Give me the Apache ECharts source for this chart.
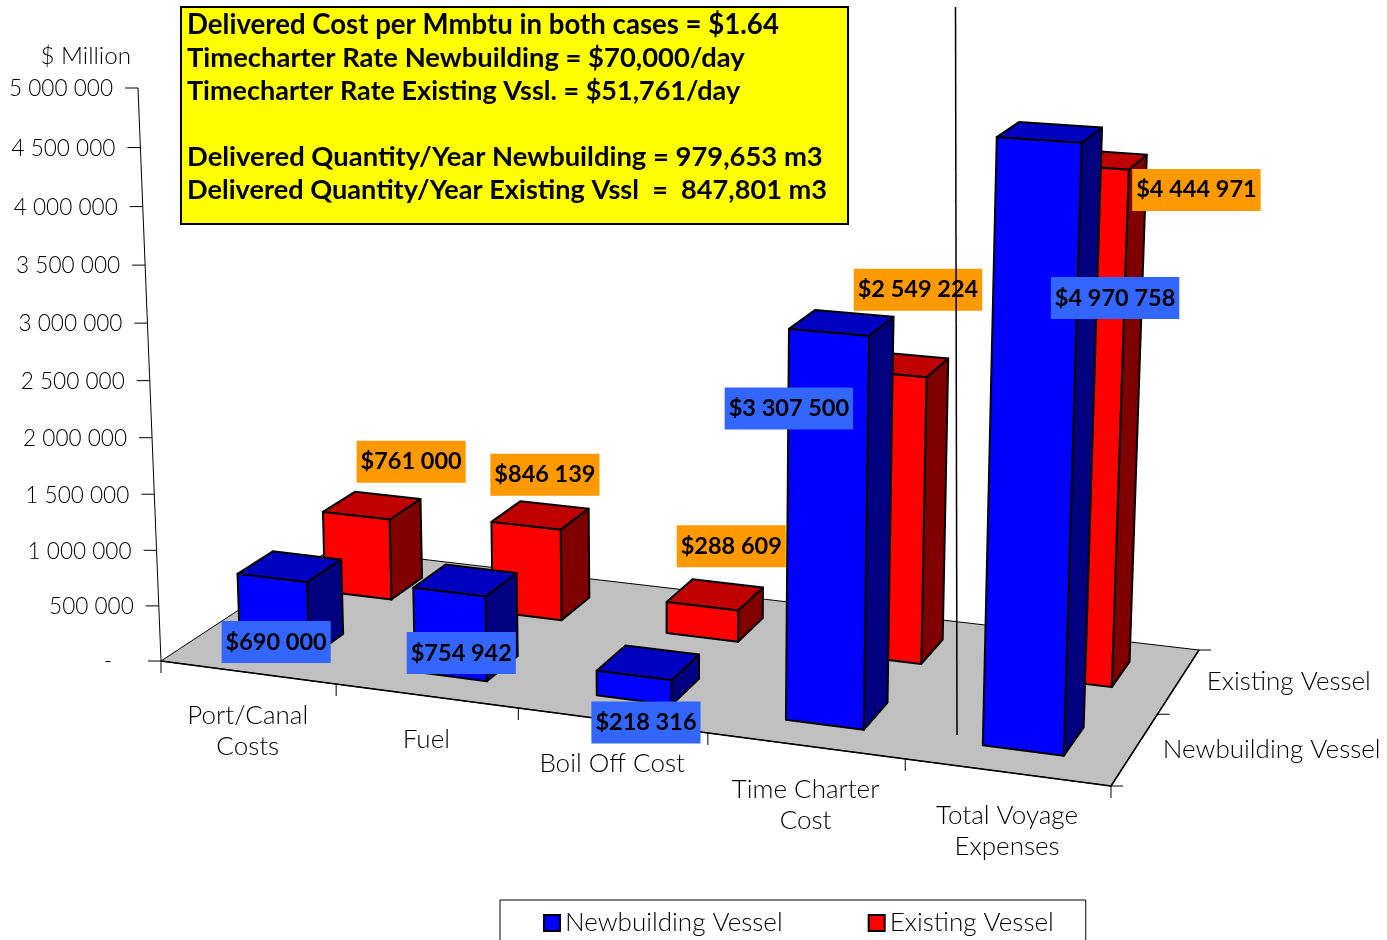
<!DOCTYPE html>
<html>
<head>
<meta charset="utf-8">
<style>html,body{margin:0;padding:0;background:#fff}#chart{width:1387px;height:940px;overflow:hidden}</style>
<script src="https://cdn.jsdelivr.net/npm/echarts@6/dist/echarts.min.js"></script>
</head>
<body>
<div id="chart"></div>
<script>
// Voyage cost comparison, drawn as a 3D column chart
const categories = ['Port/Canal\nCosts', 'Fuel', 'Boil Off Cost', 'Time Charter\nCost', 'Total Voyage\nExpenses'];
const depthNames = ['Newbuilding Vessel', 'Existing Vessel'];
const newbuildingValues = [690000, 754942, 218316, 3307500, 4970758];
const existingValues = [761000, 846139, 288609, 2549224, 4444971];
const valueTicks = [0, 500000, 1000000, 1500000, 2000000, 2500000, 3000000, 3500000, 4000000, 4500000, 5000000];
const valueTickLabels = ['-', '500 000', '1 000 000', '1 500 000', '2 000 000', '2 500 000', '3 000 000', '3 500 000', '4 000 000', '4 500 000', '5 000 000'];
const noteLines = [
  'Delivered Cost per Mmbtu in both cases = $1.64',
  'Timecharter Rate Newbuilding = $70,000/day',
  'Timecharter Rate Existing Vssl. = $51,761/day',
  '',
  'Delivered Quantity/Year Newbuilding = 979,653 m3',
  'Delivered Quantity/Year Existing Vssl  =  847,801 m3'
];
const noteSizes = [27.6, 27.4, 27.0, 27.4, 27.4, 27.15];

// Value label offsets from the top centre of each column's front face
const newbuildingNudge = [[4, 64], [12, 61], [12, 47], [-40, 76], [76, 158]];
const existingNudge = [[55, -54], [19, -51], [29, -60], [29.5, -84], [108, 23]];

const BOLD = 'bold 23.5px "Lato", sans-serif';
const AXIS_FONT = '300 26px "Lato", sans-serif';
const TICK_FONT = '300 22.6px "Lato", sans-serif';
const UNIT_FONT = '300 24.2px "Lato", sans-serif';

// Floor plane corners and the vertical vanishing point define the camera
const FLOOR = { o: [161, 661], x: [1111, 786], xy: [1199, 650], y: [332, 548.7] };
const VANISH_Y = 13718, VANISH_X = 685, TOP_Y = 88;
const BAR_U = [0.30, 0.70];      // column extent inside a category cell
const BAR_V = [0.30, 0.70];      // column extent inside a depth cell

const camera = (function () {
  const [x0, y0] = FLOOR.o, [x1, y1] = FLOOR.x, [x2, y2] = FLOOR.xy, [x3, y3] = FLOOR.y;
  const dx1 = x1 - x2, dx2 = x3 - x2, dx3 = x0 - x1 + x2 - x3;
  const dy1 = y1 - y2, dy2 = y3 - y2, dy3 = y0 - y1 + y2 - y3;
  const den = dx1 * dy2 - dx2 * dy1;
  const g = (dx3 * dy2 - dx2 * dy3) / den, h = (dx1 * dy3 - dx3 * dy1) / den;
  return {
    a: x1 - x0 + g * x1, b: x3 - x0 + h * x3, c: x0,
    d: y1 - y0 + g * y1, e: y3 - y0 + h * y3, f: y0,
    g: g, h: h,
    l: (y0 - TOP_Y) / (TOP_Y - VANISH_Y)
  };
})();

// u: category units, v: depth units, z: fraction of the value axis
function project(u, v, z) {
  const s = u / categories.length, t = v / depthNames.length, c = camera;
  const w = c.g * s + c.h * t + 1 + c.l * z;
  return [
    (c.a * s + c.b * t + c.c + c.l * VANISH_X * z) / w,
    (c.d * s + c.e * t + c.f + c.l * VANISH_Y * z) / w
  ];
}

// Reads positions through the hidden cartesian scales, then lifts them into perspective
function uFromScale(params, api, cat) {
  const sys = params.coordSys;
  return (api.coord([cat, 0])[0] - sys.x) / sys.width * categories.length;
}
function zFromScale(params, api, value) {
  const sys = params.coordSys;
  return (sys.y + sys.height - api.coord([0, value])[1]) / sys.height;
}

function face(points, fill) {
  return {
    type: 'polygon',
    shape: { points: points },
    style: { fill: fill, stroke: '#000', lineWidth: 2, lineJoin: 'round' }
  };
}

function columnRenderer(row, shades) {
  return function (params, api) {
    const cat = api.value(0), z = zFromScale(params, api, api.value(1));
    const uc = uFromScale(params, api, cat);
    const u0 = uc - 0.5 + BAR_U[0], u1 = uc - 0.5 + BAR_U[1];
    const v0 = row + BAR_V[0], v1 = row + BAR_V[1];
    const side = [project(u1, v0, 0), project(u1, v1, 0), project(u1, v1, z), project(u1, v0, z)];
    const top = [project(u0, v0, z), project(u1, v0, z), project(u1, v1, z), project(u0, v1, z)];
    const front = [project(u0, v0, 0), project(u1, v0, 0), project(u1, v0, z), project(u0, v0, z)];
    return {
      type: 'group',
      children: [face(side, shades.side), face(top, shades.top), face(front, shades.front)]
    };
  };
}

function line(a, b, width) {
  return {
    type: 'line',
    shape: { x1: a[0], y1: a[1], x2: b[0], y2: b[1] },
    style: { stroke: '#000', lineWidth: width || 1 }
  };
}
function axisText(text, x, y, align, vAlign, font) {
  return {
    type: 'text',
    style: { text: text, x: x, y: y, fill: '#000', font: font || AXIS_FONT, align: align, verticalAlign: vAlign, lineHeight: 31 }
  };
}

function frameRenderer(params, api) {
  const nCat = categories.length, nDepth = depthNames.length;
  const kids = [];
  kids.push({
    type: 'polygon',
    shape: { points: [project(0, 0, 0), project(nCat, 0, 0), project(nCat, nDepth, 0), project(0, nDepth, 0)] },
    style: { fill: '#C0C0C0', stroke: '#000', lineWidth: 1 }
  });
  kids.push(line(project(0, 0, 0), project(nCat, 0, 0), 1.5));
  kids.push(line(project(nCat, 0, 0), project(nCat, nDepth, 0), 1.5));
  // Value axis
  kids.push(line(project(0, 0, 0), project(0, 0, 1), 1));
  valueTicks.forEach(function (tick, i) {
    const p = project(0, 0, zFromScale(params, api, tick));
    kids.push(line([p[0] - 13, p[1]], p, 1));
    kids.push(axisText(valueTickLabels[i], p[0] - 25 - (tick === 0 ? 24 : 0), p[1] + 1, 'right', 'middle', TICK_FONT));
  });
  // Category axis
  for (let i = 0; i <= nCat; i++) {
    const p = project(i, 0, 0);
    kids.push(line(p, [p[0], p[1] + 12], 1));
  }
  categories.forEach(function (name, i) {
    const p = project(uFromScale(params, api, i), 0, 0);
    kids.push(axisText(name, p[0], p[1] + 28, 'center', 'top'));
  });
  // Depth axis
  for (let j = 0; j <= nDepth; j++) {
    const p = project(nCat, j, 0);
    kids.push(line(p, [p[0] + 12, p[1]], 1));
  }
  depthNames.forEach(function (name, j) {
    const p = project(nCat, j + 0.5, 0);
    kids.push(axisText(name, p[0] + 28, p[1], 'left', 'middle'));
  });
  kids.push(axisText('$ Million', 131, 56, 'right', 'middle', UNIT_FONT));
  return { type: 'group', children: kids };
}

function labelRenderer(row, background, nudges) {
  return function (params, api) {
    const cat = api.value(0), value = api.value(1);
    const uc = uFromScale(params, api, cat);
    const p = project(uc, row + BAR_V[0], zFromScale(params, api, value));
    const n = nudges[cat];
    const text = '$' + String(value).replace(/\B(?=(\d{3})+$)/g, ' ');
    return {
      type: 'text',
      style: {
        text: text, x: p[0] + n[0], y: p[1] + n[1],
        align: 'center', verticalAlign: 'middle',
        fill: '#000', font: BOLD,
        backgroundColor: background, padding: [9, 4]
      }
    };
  };
}

function pairs(values) {
  return values.map(function (v, i) { return [i, v]; });
}

const noteText = noteLines.map(function (text, i) {
  return {
    type: 'text', z: 21, x: 187, y: 25 + i * 33,
    style: { text: text, font: 'bold ' + noteSizes[i] + 'px "Lato", sans-serif', fill: '#000', align: 'left', verticalAlign: 'middle' }
  };
});

const chart = echarts.init(document.getElementById('chart'), null, { renderer: 'canvas' });
chart.setOption({
  animation: false,
  backgroundColor: '#fff',
  grid: { left: 100, right: 100, top: 100, bottom: 100 },
  xAxis: { type: 'category', data: categories, show: false },
  yAxis: { type: 'value', min: 0, max: 5000000, interval: 500000, show: false },
  legend: {
    data: depthNames,
    left: 500, top: 900,
    padding: [10, 32, 30, 43],
    itemGap: 85, itemWidth: 16, itemHeight: 16,
    icon: 'rect',
    borderColor: '#000', borderWidth: 1,
    itemStyle: { borderColor: '#000', borderWidth: 2 },
    textStyle: { fontSize: 26, fontWeight: 300, fontFamily: 'Lato', color: '#000' },
    selectedMode: false
  },
  series: [
    { type: 'custom', name: 'frame', data: [[0, 0]], z: 1, renderItem: frameRenderer, silent: true },
    { type: 'custom', name: depthNames[1], data: pairs(existingValues), z: 2, itemStyle: { color: '#FF0000' },
      renderItem: columnRenderer(1, { front: '#FF0000', top: '#C00000', side: '#800000' }) },
    { type: 'custom', name: depthNames[0], data: pairs(newbuildingValues), z: 3, itemStyle: { color: '#0000FF' },
      renderItem: columnRenderer(0, { front: '#0000FF', top: '#0000C0', side: '#000080' }) },
    { type: 'custom', name: 'existing labels', data: pairs(existingValues), z: 4,
      renderItem: labelRenderer(1, '#FF9900', existingNudge) },
    { type: 'custom', name: 'newbuilding labels', data: pairs(newbuildingValues), z: 5,
      renderItem: labelRenderer(0, '#3366FF', newbuildingNudge) }
  ],
  graphic: [
    { type: 'rect', z: 20, shape: { x: 181, y: 7, width: 667, height: 217 },
      style: { fill: '#FFFF00', stroke: '#000', lineWidth: 2 } }
  ].concat(noteText, [
    { type: 'line', z: 22, shape: { x1: 955.5, y1: 7, x2: 957, y2: 735 }, style: { stroke: '#000', lineWidth: 1.5 } }
  ])
});
</script>
</body>
</html>
